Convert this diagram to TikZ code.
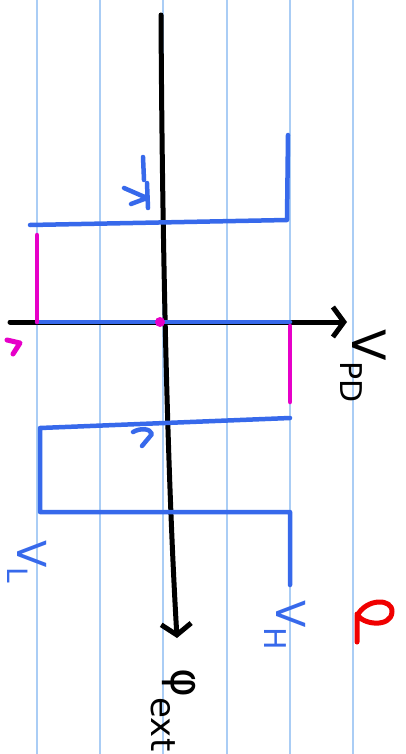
\documentclass[tikz,border=0pt]{standalone}
\usepackage{fontspec}
\setmainfont{DejaVu Sans}
\usetikzlibrary{arrows.meta}
\definecolor{paper}{RGB}{170,205,245}
\definecolor{pen}{RGB}{55,105,235}
\definecolor{hi}{RGB}{230,0,200}
\definecolor{redpen}{RGB}{240,0,0}
\newcommand{\handlab}[5]{{\fontsize{#3}{#3}\selectfont #1}\raisebox{-#5}{\fontsize{#4}{#4}\selectfont #2}}
\tikzset{
  note/.style={draw=paper,line width=1.2pt},
  ink/.style={draw=black,line width=5pt,line cap=round,line join=round},
  bluepen/.style={draw=pen,line width=4.5pt,line cap=round,line join=round},
  pinkpen/.style={draw=hi,line width=4.5pt,line cap=round,line join=round},
  redink/.style={draw=redpen,line width=5pt,line cap=round,line join=round},
  barb/.style={-{Straight Barb[length=11pt,width=30pt,line width=5pt]}},
  lab/.style={rotate=-90,inner sep=0pt},
}
\begin{document}
\begin{tikzpicture}[x=1pt,y=-1pt]
\useasboundingbox (0,0) rectangle (406,754);
\fill[white] (0,0) rectangle (406,754);
% notebook lines
\foreach \x in {37,100,163,227,290,353} \draw[note] (\x,0) -- (\x,754);
% coordinates
\coordinate (vtop) at (161,15);
\coordinate (vbot) at (177,638);
\coordinate (hl) at (10,322);
\coordinate (hr) at (347,322);
\coordinate (a1) at (288,135);
\coordinate (a2) at (287,220);
\coordinate (a3) at (30,225);
\coordinate (p1) at (37,235);
\coordinate (p2) at (37,322);
\coordinate (b1) at (37,322);
\coordinate (b2) at (290,322);
\coordinate (q1) at (290,326);
\coordinate (q2) at (290,402);
\coordinate (c1) at (290,418);
\coordinate (c2) at (40,428);
\coordinate (c3) at (40,512);
\coordinate (c4) at (290,512);
\coordinate (c5) at (290,585);
% axes
\draw[ink,barb] (vtop) .. controls (162,200) and (166,450) .. (vbot);
\draw[ink,barb] (hl) -- (hr);
% blue loop
\draw[bluepen] (a1) -- (a2) -- (a3);
\draw[bluepen] (b1) -- (b2);
\draw[bluepen] (c1) -- (c2) -- (c3) -- (c4) -- (c5);
% pink segments
\draw[pinkpen] (p1) -- (p2);
\draw[pinkpen] (q1) -- (q2);
\fill[hi] (160,322) circle (5pt);
\draw[pinkpen,line width=5pt] (7,340) -- (20,343) -- (13,354);
% direction marks
\draw[bluepen] (143,157) -- (144,180);
\draw[bluepen] (147,183) -- (148,208);
\draw[bluepen] (124,188) -- (147,198) -- (131,204);
\draw[bluepen] (133,432) .. controls (140,428) and (150,428) .. (152,434) -- (142,446);
% red mark
\draw[redink] (357,642) -- (357,616) .. controls (366,598) and (393,598) .. (392,612) .. controls (391,628) and (362,625) .. (357,614);
% labels
\node[lab] (vpd) at (363,366) {\handlab{V}{PD}{46}{30}{12pt}};
\node[lab] (phi) at (173,710) {\handlab{φ}{ext}{44}{34}{20pt}};
\node[lab,text=pen] (vl) at (27,562) {\handlab{V}{L}{40}{28}{10pt}};
\node[lab,text=pen] (vh) at (285,625) {\handlab{V}{H}{40}{30}{12pt}};
\end{tikzpicture}
\end{document}
